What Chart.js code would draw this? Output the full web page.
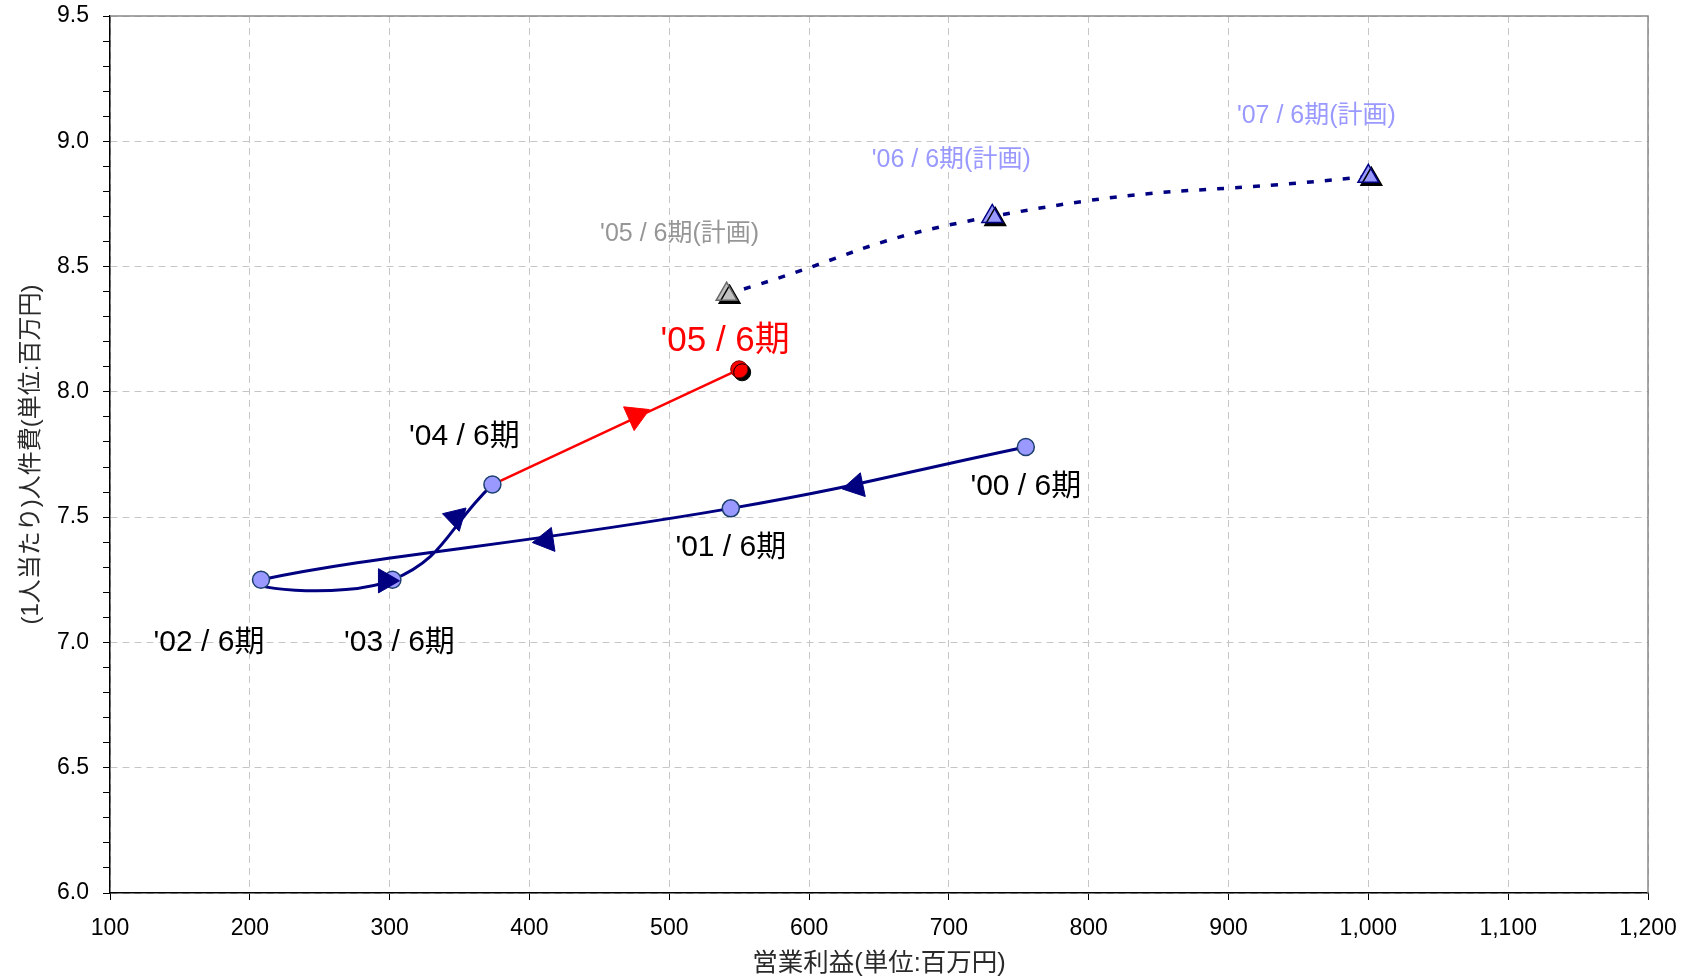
<!DOCTYPE html>
<html>
<head>
<meta charset="utf-8">
<script src="https://cdn.jsdelivr.net/npm/chart.js@4.4.1/dist/chart.umd.min.js"></script>
<style>
  html, body { margin: 0; padding: 0; background: #ffffff; }
  #wrap { width: 1689px; height: 978px; }
</style>
</head>
<body>
<div id="wrap"><canvas id="chart" width="1689" height="978"></canvas></div>
<script>
// Actual results per fiscal period (June year-end)
const periods = ["'00 / 6期", "'01 / 6期", "'02 / 6期", "'03 / 6期", "'04 / 6期", "'05 / 6期"];
const operatingProfit = [755, 544, 208, 302, 373.5, 550];        // 営業利益 (百万円)
const laborCostPerHead = [7.78, 7.535, 7.25, 7.25, 7.63, 8.09];  // 1人当たり人件費 (百万円)

// Plan figures
const planPeriods = ["'05 / 6期(計画)", "'06 / 6期(計画)", "'07 / 6期(計画)"];
const planProfit = [541, 731, 1000];
const planLaborCost = [8.39, 8.70, 8.86];

// Direction arrows placed along the actual path, and the segment each one follows
const arrowProfit = [633.5, 412, 297, 347.4, 476];
const arrowLaborCost = [7.624, 7.407, 7.246, 7.498, 7.905];
const arrowSegment = [[0, 1], [1, 2], [2, 3], [3, 4], [4, 5]];

// Axis ranges and tick steps
const xRange = [100, 1200];
const xStep = 100;
const yRange = [6.0, 9.5];
const yMajorStep = 0.5;
const yMinorStep = 0.1;

// ---- styling / layout ----
const NAVY = '#000080';
const LIGHT_BLUE = '#9999ff';
const RED = '#ff0000';
const GRID = '#c6c6c6';
const FONT = '"Liberation Sans", "Noto Sans CJK JP", sans-serif';

const labelOffsets = [[0, 40], [0, 39], [-52, 63], [7, 63], [-28, -48], [-14, -28]];
const planLabelOffsets = [[-47, -60], [-41, -56], [-52, -60]];
const planLabelColors = ['#969696', LIGHT_BLUE, LIGHT_BLUE];

const pick = (xs, ys, idx) => idx.map(i => ({ x: xs[i], y: ys[i] }));
const range = (a, b) => Array.from({ length: b - a + 1 }, (_, k) => a + k);

function arrowRotation(c, i) {
  const seg = arrowSegment[i];
  const sx = c.chart.scales.x, sy = c.chart.scales.y;
  const dx = sx.getPixelForValue(operatingProfit[seg[1]]) - sx.getPixelForValue(operatingProfit[seg[0]]);
  const dy = sy.getPixelForValue(laborCostPerHead[seg[1]]) - sy.getPixelForValue(laborCostPerHead[seg[0]]);
  return Math.atan2(dx, -dy) * 180 / Math.PI;
}

const isMajorY = v => Math.abs(v / yMajorStep - Math.round(v / yMajorStep)) < 1e-6;

// Drop shadow for marker datasets flagged with dropShadow
const shadowPlugin = {
  id: 'markerShadow',
  beforeDatasetDraw(chart, args) {
    const ds = chart.data.datasets[args.index];
    if (ds.dropShadow) {
      const ctx = chart.ctx;
      ctx.save();
      ctx.shadowColor = '#000000';
      ctx.shadowOffsetX = 3;
      ctx.shadowOffsetY = 3;
      ctx.shadowBlur = 0;
    }
  },
  afterDatasetDraw(chart, args) {
    const ds = chart.data.datasets[args.index];
    if (ds.dropShadow) chart.ctx.restore();
  }
};

// Gray frame on the top and right sides of the plot area
const framePlugin = {
  id: 'plotFrame',
  beforeDatasetsDraw(chart) {
    const { ctx, chartArea: a } = chart;
    ctx.save();
    ctx.strokeStyle = '#8a8a8a';
    ctx.lineWidth = 1.5;
    ctx.beginPath();
    ctx.moveTo(a.left, a.top);
    ctx.lineTo(a.right, a.top);
    ctx.lineTo(a.right, a.bottom);
    ctx.stroke();
    ctx.restore();
  }
};

// Period labels next to each point
const labelPlugin = {
  id: 'periodLabels',
  afterDatasetsDraw(chart) {
    const { ctx, scales: { x, y } } = chart;
    ctx.save();
    ctx.textAlign = 'center';
    ctx.textBaseline = 'middle';
    periods.forEach((t, i) => {
      const last = i === periods.length - 1;
      ctx.font = (last ? '35px ' : '30px ') + FONT;
      ctx.fillStyle = last ? RED : '#000000';
      ctx.fillText(t,
        x.getPixelForValue(operatingProfit[i]) + labelOffsets[i][0],
        y.getPixelForValue(laborCostPerHead[i]) + labelOffsets[i][1]);
    });
    planPeriods.forEach((t, i) => {
      ctx.font = '25px ' + FONT;
      ctx.fillStyle = planLabelColors[i];
      ctx.fillText(t,
        x.getPixelForValue(planProfit[i]) + planLabelOffsets[i][0],
        y.getPixelForValue(planLaborCost[i]) + planLabelOffsets[i][1]);
    });
    ctx.restore();
  }
};

const lastIdx = operatingProfit.length - 1;
const blueArrowIdx = [0, 1, 2, 3];
const redArrowIdx = [4];

new Chart(document.getElementById('chart'), {
  type: 'scatter',
  data: {
    datasets: [
      { // actual path '00 → '04
        data: pick(operatingProfit, laborCostPerHead, range(0, lastIdx - 1)),
        showLine: true, borderColor: NAVY, borderWidth: 3, tension: 0.45,
        pointRadius: 0, order: 5
      },
      { // latest move '04 → '05
        data: pick(operatingProfit, laborCostPerHead, [lastIdx - 1, lastIdx]),
        showLine: true, borderColor: RED, borderWidth: 2.5, tension: 0,
        pointRadius: 0, order: 5
      },
      { // plan path
        data: pick(planProfit, planLaborCost, range(0, planProfit.length - 1)),
        showLine: true, borderColor: NAVY, borderWidth: 3.5, borderDash: [7, 11], tension: 0.5,
        pointRadius: 0, order: 5
      },
      { // actual markers
        data: pick(operatingProfit, laborCostPerHead, range(0, lastIdx - 1)),
        pointStyle: 'circle', pointRadius: 8.5,
        pointBackgroundColor: LIGHT_BLUE, pointBorderColor: '#1c3f6e', pointBorderWidth: 1.5,
        order: 3
      },
      { // latest marker
        data: pick(operatingProfit, laborCostPerHead, [lastIdx]),
        pointStyle: 'circle', pointRadius: 8.5,
        pointBackgroundColor: RED, pointBorderColor: '#7a0000', pointBorderWidth: 1,
        dropShadow: true, order: 3
      },
      { // plan markers
        data: pick(planProfit, planLaborCost, range(0, planProfit.length - 1)),
        pointStyle: 'triangle', pointRadius: 12,
        pointBackgroundColor: ['#c0c0c0', LIGHT_BLUE, LIGHT_BLUE],
        pointBorderColor: ['#666666', NAVY, NAVY], pointBorderWidth: 1.5,
        dropShadow: true, order: 3
      },
      { // direction arrows on the navy path
        data: pick(arrowProfit, arrowLaborCost, blueArrowIdx),
        pointStyle: 'triangle', pointRadius: 14,
        pointBackgroundColor: NAVY, pointBorderColor: NAVY, pointBorderWidth: 1,
        rotation: c => (c.type === 'data' ? arrowRotation(c, blueArrowIdx[c.dataIndex]) : 0),
        order: 1
      },
      { // arrow on the red path
        data: pick(arrowProfit, arrowLaborCost, redArrowIdx),
        pointStyle: 'triangle', pointRadius: 15,
        pointBackgroundColor: RED, pointBorderColor: RED, pointBorderWidth: 1,
        rotation: 186,
        order: 1
      }
    ]
  },
  options: {
    responsive: false,
    animation: false,
    devicePixelRatio: 1,
    events: [],
    layout: { padding: { left: 0, top: 15, right: 41, bottom: 0 } },
    plugins: { legend: { display: false }, tooltip: { enabled: false } },
    scales: {
      x: {
        type: 'linear', position: 'bottom',
        min: xRange[0], max: xRange[1],
        afterFit: s => { s.height = 85; s.paddingLeft = 0; s.paddingRight = 0; },
        ticks: {
          stepSize: xStep, autoSkip: false, maxRotation: 0, padding: 15,
          color: '#000000', font: { family: FONT, size: 23 },
          callback: v => v.toLocaleString('en-US')
        },
        grid: { color: GRID, lineWidth: 1, tickColor: '#000000', tickLength: 7, tickWidth: 1 },
        border: { color: '#000000', width: 1.5, dash: [7, 5] },
        title: {
          display: true, text: '営業利益(単位:百万円)', color: '#2a2a2a',
          font: { family: FONT, size: 25.5 }, padding: { top: 0, bottom: -1 }
        }
      },
      y: {
        type: 'linear', position: 'left',
        min: yRange[0], max: yRange[1],
        afterFit: s => { s.width = 110; s.paddingTop = 0; s.paddingBottom = 0; },
        ticks: {
          stepSize: yMinorStep, autoSkip: false, padding: 14,
          color: '#000000', font: { family: FONT, size: 23 },
          callback: v => (isMajorY(v) ? v.toFixed(1) : '')
        },
        grid: {
          color: c => (c.tick && isMajorY(c.tick.value) ? GRID : 'rgba(0,0,0,0)'),
          lineWidth: 1, tickColor: '#000000', tickLength: 7, tickWidth: 1
        },
        border: { color: '#000000', width: 1.5, dash: [7, 5] },
        title: {
          display: true, text: '(1人当たり)人件費(単位:百万円)', color: '#2a2a2a',
          font: { family: FONT, size: 24 }, padding: { top: 17, bottom: 0 }
        }
      }
    }
  },
  plugins: [shadowPlugin, framePlugin, labelPlugin]
});
</script>
</body>
</html>
